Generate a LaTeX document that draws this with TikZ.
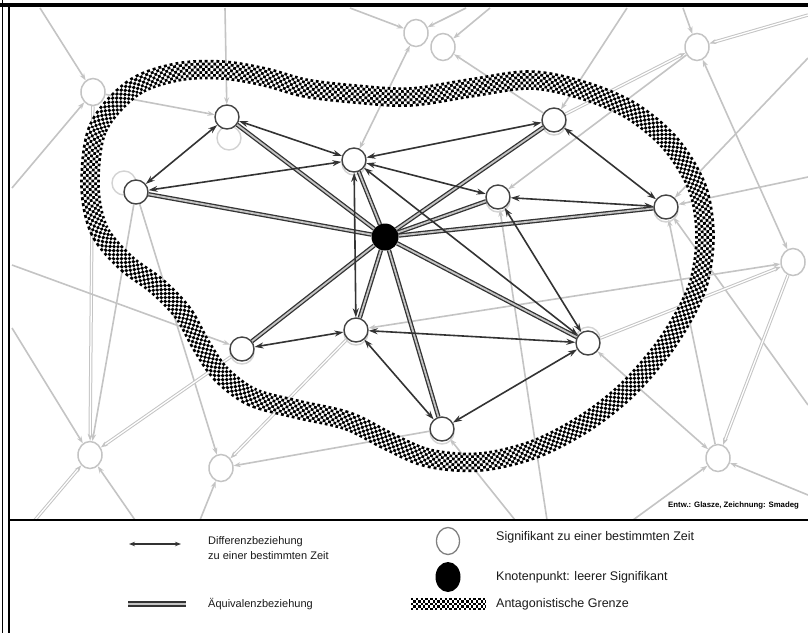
\documentclass[tikz,border=0pt]{standalone}
\usepackage{fontspec}
\setmainfont{Liberation Sans}
\usetikzlibrary{arrows.meta,shapes.geometric}
\definecolor{dk}{HTML}{333333}
\definecolor{lg}{HTML}{C4C4C4}
\definecolor{nodeg}{HTML}{444444}
\definecolor{txt}{HTML}{1A1A1A}
\pgfdeclarelayer{ga}\pgfdeclarelayer{gb}\pgfdeclarelayer{gc}
\pgfsetlayers{ga,gb,gc,main}
\def\contourpath{plot[smooth cycle, tension=0.55] coordinates {(90,185) (98,128) (133,88) (177,72) (222,70) (265,77) (305,88) (355,94) (410,97) (470,88) (530,80) (582,90) (630,110) (670,143) (697,187) (705,233) (700,278) (686,312) (662,350) (627,390) (585,423) (535,449) (480,462) (428,458) (388,441) (348,421) (296,409) (252,397) (221,374) (201,345) (183,313) (157,286) (125,262) (99,230)}}
\def\legpath{(411,604) -- (486,604)}
\tikzset{gt/.tip={Stealth[length=7pt,width=5pt]},
         dt/.tip={Stealth[length=9pt,width=6pt]},
         lt/.tip={Stealth[length=6pt,width=4.5pt]}}
\begin{document}
\begin{tikzpicture}[x=1pt,y=-1pt,
  signif/.style={circle, draw=nodeg, line width=1.4pt, fill=white, minimum size=24pt, inner sep=0pt},
  knot/.style={circle, fill=black, minimum size=27pt, inner sep=0pt},
  gnode/.style={ellipse, draw=lg, line width=1.5pt, fill=white, minimum width=24pt, minimum height=27pt, inner sep=0pt},
  ghost/.style={circle, draw=lg!75, line width=1.4pt, minimum size=24pt, inner sep=0pt},
  diff/.style={draw=dk, line width=1.6pt, dt-dt},
  equiv/.style={draw=dk, line width=1.3pt, double=lg, double distance=1.8pt},
  gar/.style={draw=lg, line width=1.6pt, -gt},
  garr/.style={draw=lg, line width=1.6pt, gt-gt},
  gdar/.style={draw=lg, line width=1pt, double=white, double distance=1.3pt, -gt},
  legtxt/.style={anchor=west, inner sep=0pt, text=txt, font=\fontsize{11}{15}\selectfont, align=left},
  legtxtb/.style={anchor=west, inner sep=0pt, text=txt, font=\fontsize{12.5}{15}\selectfont, align=left}
]
\useasboundingbox (0,0) rectangle (808,633);

% ---------- nodes ----------
\node[gnode] (N1) at (93,92) {};
\node[gnode] (T1) at (416,33) {};
\node[gnode] (T2) at (443,47) {};
\node[gnode] (TR) at (697,47) {};
\node[gnode] (R)  at (793,262) {};
\node[gnode] (BL) at (90,455) {};
\node[gnode] (B2) at (221,468) {};
\node[gnode] (BR) at (718,458) {};

\node[signif] (A) at (227,117) {};
\node[signif] (B) at (136,192) {};
\node[signif] (C) at (354,160) {};
\node[signif] (D) at (554,120) {};
\node[signif] (E) at (498,197) {};
\node[signif] (F) at (666,207) {};
\node[signif] (G) at (242,349) {};
\node[signif] (H) at (356,330) {};
\node[signif] (I) at (588,343) {};
\node[signif] (J) at (442,429) {};
\node[knot]   (K) at (385,237) {};

% ---------- background network ----------
\begin{pgfonlayer}{ga}
\fill[white] (0,0) rectangle (808,633);
\coordinate (o1) at (40,8);
\coordinate (o2) at (225,8);
\coordinate (o3) at (12,188);
\coordinate (o4) at (12,265);
\coordinate (o5) at (12,328);
\coordinate (o6) at (35,520);
\coordinate (o7) at (135,520);
\coordinate (o8) at (200,520);
\coordinate (o9) at (515,520);
\coordinate (o10) at (547,520);
\coordinate (o11) at (633,520);
\coordinate (o12) at (808,405);
\coordinate (o13) at (808,177);
\coordinate (o14) at (808,15);
\coordinate (o15) at (627,8);
\coordinate (o16) at (683,8);
\coordinate (o17) at (808,58);
\coordinate (o18) at (350,8);
\coordinate (o19) at (466,8);
\coordinate (o20) at (490,8);
\coordinate (o21) at (808,495);
\draw[gar] (o1) -- (N1);
\draw[gar] (N1) -- (A);
\draw[gar] (o2) -- (A);
\draw[gar] (o3) -- (N1);
\draw[gdar] (N1) -- (BL);
\draw[gar] (B) -- (BL);
\draw[gar] (B) -- (B2);
\draw[gar] (o4) -- (G);
\draw[gar] (o5) -- (BL);
\draw[gdar] (o6) -- (BL);
\draw[gar] (o7) -- (BL);
\draw[gdar] (G) -- (BL);
\draw[gdar] (H) -- (B2);
\draw[gar] (J) -- (B2);
\draw[gar] (o8) -- (B2);
\draw[gar] (o9) -- (J);
\draw[gar] (o10) -- (E);
\draw[garr] (I) -- (BR);
\draw[gar] (o11) -- (BR);
\draw[gar] (o12) -- (F);
\draw[gar] (BR) -- (F);
\draw[garr] (TR) -- (R);
\draw[gdar] (R) -- (BR);
\draw[garr] (H) -- (R);
\draw[gdar] (I) -- (R);
\draw[gar] (o13) -- (F);
\draw[gdar] (D) -- (TR);
\draw[gar] (TR) -- (E);
\draw[gdar] (o14) -- (TR);
\draw[gar] (o15) -- (D);
\draw[gar] (o16) -- (TR);
\draw[gar] (o17) -- (F);
\draw[gar] (o18) -- (T1);
\draw[gar] (o19) -- (T1);
\draw[gar] (o20) -- (T2);
\draw[garr] (T1) -- (C);
\draw[gar] (D) -- (T2);
\draw[gar] (o21) -- (BR);
\end{pgfonlayer}

% ---------- antagonistic border and ghost circles ----------
\begin{pgfonlayer}{gb}
\draw[black, line width=19.6pt, dash pattern=on 2.8pt off 2.8pt] \contourpath;
\draw[white, line width=14pt] \contourpath;
\draw[black, line width=14pt, dash pattern=on 2.8pt off 2.8pt, dash phase=2.8pt] \contourpath;
\draw[white, line width=8.4pt] \contourpath;
\draw[black, line width=8.4pt, dash pattern=on 2.8pt off 2.8pt] \contourpath;
\draw[white, line width=2.8pt] \contourpath;
\draw[black, line width=2.8pt, dash pattern=on 2.8pt off 2.8pt, dash phase=2.8pt] \contourpath;
\node[ghost] (gA) at (229,138) {};
\node[ghost] (gB) at (124,183) {};
\foreach \n/\x/\y in {gC/354/163, gD/554/123, gE/498/200, gF/666/210, gG/242/352, gH/356/333, gI/588/339, gJ/442/432}
  \node[ghost] (\n) at (\x,\y) {};
\end{pgfonlayer}

% ---------- relations ----------
\begin{pgfonlayer}{gc}
\foreach \t in {A,B,C,D,E,F,G,H,I,J}
  \draw[equiv] (K) -- (\t);
\draw[diff] (A) -- (B);
\draw[diff] (A) -- (C);
\draw[diff] (B) -- (C);
\draw[diff] (C) -- (D);
\draw[diff] (C) -- (E);
\draw[diff] (E) -- (F);
\draw[diff] (D) -- (F);
\draw[diff] (C) -- (H);
\draw[diff] (C) -- (I);
\draw[diff] (E) -- (I);
\draw[diff] (H) -- (I);
\draw[diff] (G) -- (H);
\draw[diff] (H) -- (J);
\draw[diff] (I) -- (J);
\end{pgfonlayer}

% ---------- credit ----------
\node[anchor=west, inner sep=0pt, text=black, font=\bfseries\fontsize{7.8}{8}\selectfont] (credit) at (668,505) {Entw.: Glasze, Zeichnung: Smadeg};

% ---------- frame ----------
\draw[line width=4pt] (0,5) -- (808,5);
\draw[line width=1.2pt] (2.5,0) -- (2.5,633);
\draw[line width=2.5pt] (9,5) -- (9,633);
\draw[line width=2.5pt] (9,520) -- (808,520);

% ---------- legend ----------
\coordinate (la1) at (129,544);
\coordinate (la2) at (181,544);
\draw[draw=dk, line width=1.1pt, lt-lt] (la1) -- (la2);
\node[legtxt] (t1) at (208,548) {Differenzbeziehung\\zu einer bestimmten Zeit};
\coordinate (lb1) at (128,604);
\coordinate (lb2) at (186,604);
\draw[draw=dk, line width=1.6pt, double=lg, double distance=2.4pt] (lb1) -- (lb2);
\node[legtxt] (t2) at (208,604) {Äquivalenzbeziehung};
\node[ellipse, draw=gray, line width=1.3pt, fill=white, minimum width=23pt, minimum height=27pt, inner sep=0pt] (lc) at (448,541) {};
\node[ellipse, fill=black, minimum width=25pt, minimum height=30pt, inner sep=0pt] (ld) at (448,577) {};
\draw[black, line width=12pt, dash pattern=on 2.4pt off 2.4pt] \legpath;
\draw[white, line width=7.2pt] \legpath;
\draw[black, line width=7.2pt, dash pattern=on 2.4pt off 2.4pt, dash phase=2.4pt] \legpath;
\draw[white, line width=2.4pt] \legpath;
\draw[black, line width=2.4pt, dash pattern=on 2.4pt off 2.4pt] \legpath;
\node[legtxtb] (t3) at (496,537) {Signifikant zu einer bestimmten Zeit};
\node[legtxtb] (t4) at (496,577) {Knotenpunkt: leerer Signifikant};
\node[legtxtb] (t5) at (496,604) {Antagonistische Grenze};
\end{tikzpicture}
\end{document}
